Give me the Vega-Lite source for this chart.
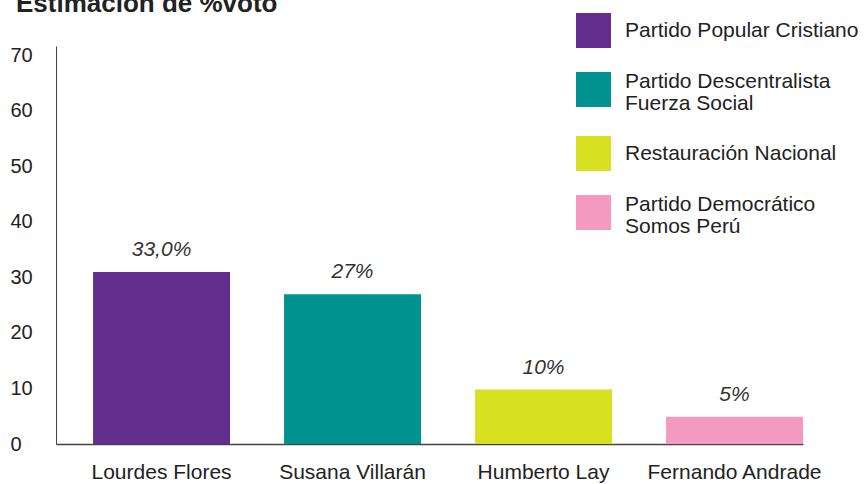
{
  "$schema": "https://vega.github.io/schema/vega-lite/v6.json",
  "autosize": {"type": "none"},
  "padding": {"left": 56, "top": 46, "right": 62, "bottom": 40},
  "width": 747,
  "height": 398,
  "background": "white",
  "title": {
    "text": "Estimación de %voto",
    "anchor": "start",
    "frame": "group",
    "dx": -40,
    "offset": -25,
    "baseline": "alphabetic",
    "font": "Liberation Sans",
    "fontSize": 26,
    "fontWeight": "bold",
    "color": "#222222"
  },
  "data": {
    "values": [
      {"candidato": "Lourdes Flores", "partido": "Partido Popular Cristiano", "voto": 31, "etiqueta": "33,0%"},
      {"candidato": "Susana Villarán", "partido": "Partido Descentralista|Fuerza Social", "voto": 27, "etiqueta": "27%"},
      {"candidato": "Humberto Lay", "partido": "Restauración Nacional", "voto": 9.8, "etiqueta": "10%"},
      {"candidato": "Fernando Andrade", "partido": "Partido Democrático|Somos Perú", "voto": 4.9, "etiqueta": "5%"}
    ]
  },
  "encoding": {
    "x": {
      "field": "candidato",
      "type": "nominal",
      "sort": null,
      "scale": {"paddingInner": 0.283, "paddingOuter": 0.097, "align": 1},
      "axis": {
        "title": null,
        "labelAngle": 0,
        "ticks": false,
        "labelPadding": 17,
        "labelFontSize": 21,
        "labelFont": "Liberation Sans",
        "labelColor": "#222222",
        "domainColor": "#444444",
        "domainWidth": 1.5
      }
    },
    "y": {
      "field": "voto",
      "type": "quantitative",
      "scale": {"domain": [0, 71.7], "nice": false, "zero": true},
      "axis": {
        "title": null,
        "values": [0, 10, 20, 30, 40, 50, 60, 70],
        "grid": false,
        "ticks": false,
        "labelAlign": "left",
        "labelPadding": 46,
        "labelFontSize": 20,
        "labelFont": "Liberation Sans",
        "labelColor": "#222222",
        "domainColor": "#444444",
        "domainWidth": 1
      }
    }
  },
  "layer": [
    {
      "mark": {"type": "bar"},
      "encoding": {
        "color": {
          "field": "partido",
          "type": "nominal",
          "scale": {
            "domain": ["Partido Popular Cristiano", "Partido Descentralista|Fuerza Social", "Restauración Nacional", "Partido Democrático|Somos Perú"],
            "range": ["#632d8e", "#00928f", "#d7e021", "#f49ac1"]
          },
          "legend": {
            "title": null,
            "orient": "none",
            "legendX": 520,
            "legendY": -33,
            "symbolType": "square",
            "symbolSize": 1225,
            "symbolStrokeWidth": 0,
            "symbolOpacity": 1,
            "labelExpr": "split(datum.label, '|')",
            "labelFontSize": 21,
            "labelFont": "Liberation Sans",
            "labelColor": "#222222",
            "labelOffset": 14,
            "labelLimit": 400,
            "rowPadding": 22,
            "encode": {
              "labels": {
                "update": {
                  "dy": {"signal": "indexof(datum.value, '|') >= 0 ? -8 : 0"},
                  "lineHeight": {"value": 22}
                }
              }
            }
          }
        }
      }
    },
    {
      "mark": {
        "type": "text",
        "baseline": "alphabetic",
        "dy": -16,
        "fontSize": 21,
        "fontStyle": "italic",
        "font": "Liberation Sans",
        "color": "#333333"
      },
      "encoding": {
        "text": {"field": "etiqueta", "type": "nominal"}
      }
    }
  ],
  "config": {
    "view": {"stroke": null}
  }
}
